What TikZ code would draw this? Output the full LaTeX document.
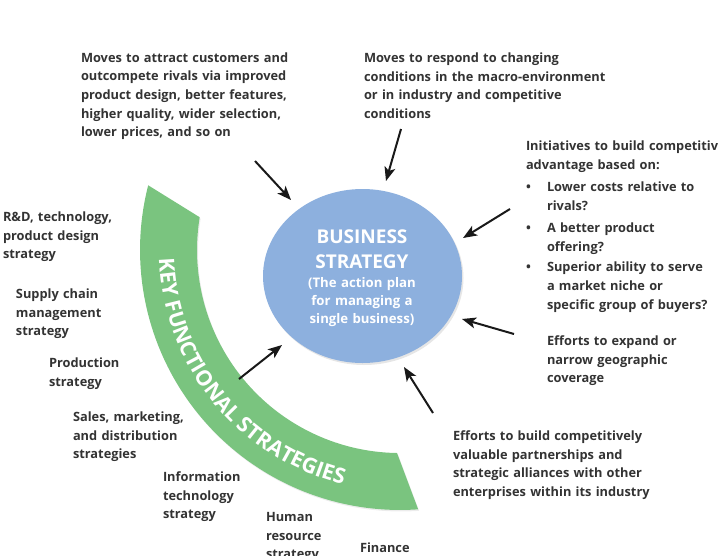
\documentclass[tikz,border=0pt]{standalone}
\usepackage{fontspec}
\setmainfont{Open Sans}
\usetikzlibrary{arrows.meta,decorations.text,shadows,shapes.geometric}
\definecolor{bsblue}{RGB}{141,176,222}
\definecolor{kfgreen}{RGB}{122,196,127}
\definecolor{txtgray}{RGB}{51,51,51}
\newcommand{\bodyfont}[1]{\fontsize{12.8}{#1}\selectfont\bfseries}
\begin{document}
\begin{tikzpicture}[x=1pt,y=-1pt,
  lbl/.style={anchor=base west, inner sep=0pt, outer sep=0pt, text width=280pt, align=left, font=\bodyfont{18.7}, text=txtgray},
  lblb/.style={lbl, font=\bodyfont{19.3}},
  dot/.style={anchor=base west, inner sep=0pt, font=\bodyfont{18.7}, text=txtgray},
  arr/.style={line width=2pt, -{Stealth[length=14pt,width=11pt,inset=3.5pt]}, black!90},
  bstitle/.style={anchor=base, inner sep=0pt, text width=180pt, align=center, text=white, font=\fontsize{19}{25}\selectfont\bfseries},
  bssub/.style={anchor=base, inner sep=0pt, text width=180pt, align=center, text=white, font=\fontsize{13.2}{18}\selectfont\bfseries}]
\useasboundingbox (0,0) rectangle (718,555);
\clip (0,0) rectangle (718,555);

% green band: annular sector centred at (400,250)
\fill[kfgreen, drop shadow={shadow xshift=1pt, shadow yshift=-1.5pt, opacity=0.15}]
  (148.2,185.3) arc[start angle=194.4, end angle=86, radius=260]
  -- (397,453) arc[start angle=90.85, end angle=189.3, radius=203] -- cycle;
\path[decorate, decoration={text along path, text align=left,
    text={|\fontsize{21.3}{21.3}\selectfont\bfseries\color{white}|KEY FUNCTIONAL STRATEGIES}}]
  (159.1,258.4) arc[start angle=178, end angle=92, radius=241];

% ellipse
\node[ellipse, fill=bsblue, minimum width=199pt, minimum height=174pt, inner sep=0pt,
  drop shadow={shadow xshift=1.5pt, shadow yshift=-2pt, opacity=0.2}] (bs) at (362.5,276) {};
\node[bstitle] (bst) at (362,243) {BUSINESS\\STRATEGY};
\node[bssub] (bss) at (362,287) {(The action plan\\for managing a\\single business)};

% texts
\node[lbl] (t1) at (81,62) {Moves to attract customers and\\outcompete rivals via improved\\product design, better features,\\higher quality, wider selection,\\lower prices, and so on};
\node[lbl] (t2) at (364,62.5) {Moves to respond to changing\\conditions in the macro-environment\\or in industry and competitive\\conditions};
\node[lbl] (t3) at (526,150.5) {Initiatives to build competitive\\advantage based on:};
\node[dot] (d1) at (526,191.5) {•};
\node[dot] (d2) at (526,232.5) {•};
\node[dot] (d3) at (526,271) {•};
\node[lblb] (b1) at (547,191.5) {Lower costs relative to\\rivals?};
\node[lblb] (b2) at (547,232.5) {A better product\\offering?};
\node[lblb] (b3) at (547,271) {Superior ability to serve\\a market niche or\\specific group of buyers?};
\node[lbl] (t4) at (547,345.5) {Efforts to expand or\\narrow geographic\\coverage};
\node[lbl] (t5) at (453,440.5) {Efforts to build competitively\\valuable partnerships and\\strategic alliances with other\\enterprises within its industry};

\node[lbl] (l1) at (3,221.5) {R\&D, technology,\\product design\\strategy};
\node[lbl] (l2) at (16,298.5) {Supply chain\\management\\strategy};
\node[lbl] (l3) at (49,367.5) {Production\\strategy};
\node[lbl] (l4) at (73,421.5) {Sales, marketing,\\and distribution\\strategies};
\node[lbl] (l5) at (163,481.5) {Information\\technology\\strategy};
\node[lbl] (l6) at (266,521.5) {Human\\resource\\strategy};
\node[lbl] (l7) at (360,552.5) {Finance};

% arrows
\coordinate (a1s) at (255,161); \coordinate (a1e) at (291,200);
\coordinate (a2s) at (401,129); \coordinate (a2e) at (386,181);
\coordinate (a3s) at (510,209); \coordinate (a3e) at (463,238);
\coordinate (a4s) at (514,334); \coordinate (a4e) at (462,319);
\coordinate (a5s) at (433,413); \coordinate (a5e) at (404,367);
\coordinate (a6s) at (239,379); \coordinate (a6e) at (282,345);
\draw[arr] (a1s) -- (a1e);
\draw[arr] (a2s) -- (a2e);
\draw[arr] (a3s) -- (a3e);
\draw[arr] (a4s) -- (a4e);
\draw[arr] (a5s) -- (a5e);
\draw[arr] (a6s) -- (a6e);
\end{tikzpicture}
\end{document}
